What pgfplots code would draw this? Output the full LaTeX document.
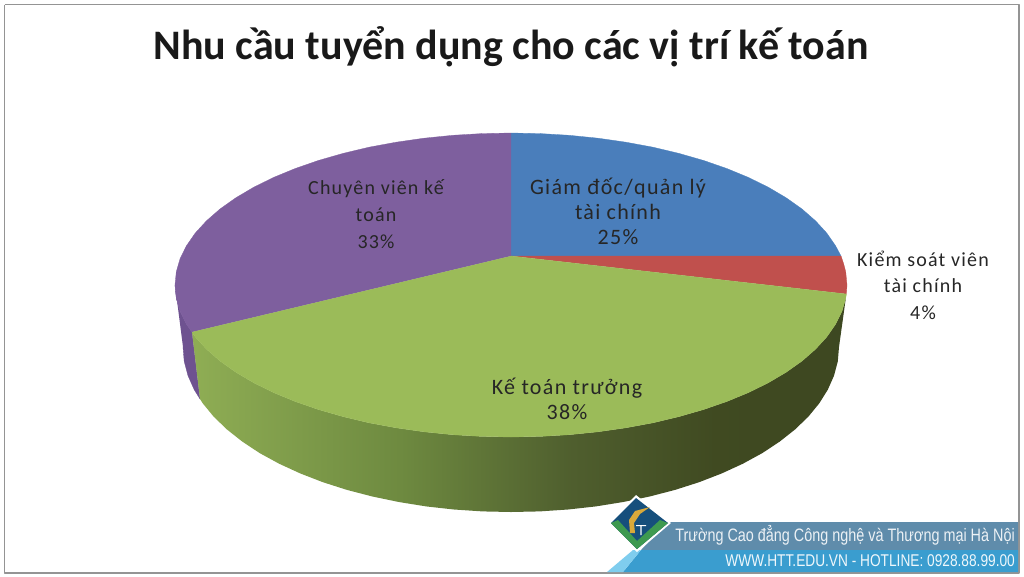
\documentclass[border=0pt]{standalone}
\usepackage{fontspec}
\setmainfont{Carlito}
\newfontfamily\hfont{Liberation Sans}
\newfontfamily\lblfont[LetterSpace=6]{Carlito}
\usepackage{graphicx}
\usepackage{pgfplots}
\pgfplotsset{compat=1.18}
\definecolor{cblue}{HTML}{4A7EBB}
\definecolor{cred}{HTML}{C0504D}
\definecolor{cgreen}{HTML}{9BBB59}
\definecolor{cpurple}{HTML}{7E5F9E}
\definecolor{cpurpleside}{HTML}{6E5290}
\definecolor{bandtop}{HTML}{5F8CAB}
\definecolor{bandlow}{HTML}{3A9DCF}
\definecolor{bandlight}{HTML}{7FCDEE}
\definecolor{logoblue}{HTML}{164F7C}
\definecolor{logogreen}{HTML}{3E9A50}
\definecolor{logogold}{HTML}{D9A93A}
\pgfdeclarehorizontalshading{greenside}{100bp}{
  rgb(0bp)=(.56,.68,.33);
  rgb(25bp)=(.56,.68,.33);
  rgb(41bp)=(.43,.54,.25);
  rgb(54bp)=(.31,.37,.18);
  rgb(65bp)=(.25,.29,.13);
  rgb(75bp)=(.24,.28,.13);
  rgb(100bp)=(.24,.28,.13)}
\begin{document}
\begin{tikzpicture}
\begin{axis}[
  scale only axis, width=1024pt, height=576pt,
  xmin=0, xmax=1024, ymin=0, ymax=576, y dir=reverse,
  hide axis, clip=false,
  every axis plot/.append style={no marks, line join=round},
]
% keep the whole 1024x576 area as the page
\path[use as bounding box] (axis cs:0,0) rectangle (axis cs:1024,576);

% outer frame
\addplot[draw=black!42, line width=1.4pt] coordinates {(4.5,4.5) (1019,4.5) (1019,573) (4.5,573) (4.5,4.5)};

% sides of the pie
\addplot[fill=cpurpleside, draw=cpurpleside, line width=.3pt] coordinates {
  (175,285) (176.3,298.3) (180.1,311.4) (186.5,324.3) (192,332) (200,399)
  (194.2,389.7) (188,375.7) (184.2,361.4) (183,347)};
\addplot[shade, shading=greenside, draw=none] coordinates {
  (846.4,294) (845.7,298.3) (841.9,311.4) (835.5,324.3) (826.7,337) (815.5,349.2) (802,361)
  (786.2,372.2) (768.4,382.7) (748.6,392.5) (727,401.4) (703.7,409.5) (679,416.6) (653,422.8)
  (625.9,427.8) (598,431.8) (569.3,434.7) (540.3,436.4) (511,437) (481.7,436.4) (452.7,434.7)
  (424,431.8) (396.1,427.8) (369,422.8) (343,416.6) (318.3,409.5) (295,401.4) (273.4,392.5)
  (253.6,382.7) (235.8,372.2) (220,361) (206.5,349.2) (195.3,337) (192,332)
  (200,399) (202.8,403.4) (213.7,416.7) (227,429.5) (242.3,441.6) (259.7,453.1) (279.1,463.7)
  (300.2,473.4) (322.9,482.2) (347,489.9) (372.4,496.5) (398.8,502) (426.1,506.4) (454,509.5)
  (482.4,511.4) (511,512) (539.6,511.4) (568,509.5) (595.9,506.4) (623.2,502) (649.6,496.5)
  (675,489.9) (699.1,482.2) (721.8,473.4) (742.9,463.7) (762.3,453.1) (779.7,441.6) (795,429.5)
  (808.3,416.7) (819.2,403.4) (827.8,389.7) (834,375.7) (837.8,361.4) (839,347)};

% top face
\addplot[fill=cblue, draw=cblue, line width=.3pt] coordinates {
  (511,256) (511,133) (540.3,133.6) (569.3,135.3) (598,138.2) (625.9,142.2) (653,147.2)
  (679,153.4) (703.7,160.5) (727,168.6) (748.6,177.5) (768.4,187.3) (786.2,197.8) (802,209)
  (815.5,220.8) (826.7,233) (835.5,245.7) (841,256)};
\addplot[fill=cred, draw=cred, line width=.3pt] coordinates {
  (511,256) (841,256) (843.7,264) (845.7,271.7) (847,285) (846.4,294)};
\addplot[fill=cpurple, draw=cpurple, line width=.3pt] coordinates {
  (511,256) (192,332) (186.5,324.3) (180.1,311.4) (176.3,298.3) (175,285) (176.3,271.7)
  (180.1,258.6) (186.5,245.7) (195.3,233) (206.5,220.8) (220,209) (235.8,197.8) (253.6,187.3)
  (273.4,177.5) (295,168.6) (318.3,160.5) (343,153.4) (369,147.2) (396.1,142.2) (424,138.2)
  (452.7,135.3) (481.7,133.6) (511,133)};
\addplot[fill=cgreen, draw=cgreen, line width=.3pt] coordinates {
  (511,256) (846.4,294) (845.7,298.3) (841.9,311.4) (835.5,324.3) (826.7,337) (815.5,349.2)
  (802,361) (786.2,372.2) (768.4,382.7) (748.6,392.5) (727,401.4) (703.7,409.5) (679,416.6)
  (653,422.8) (625.9,427.8) (598,431.8) (569.3,434.7) (540.3,436.4) (511,437) (481.7,436.4)
  (452.7,434.7) (424,431.8) (396.1,427.8) (369,422.8) (343,416.6) (318.3,409.5) (295,401.4)
  (273.4,392.5) (253.6,382.7) (235.8,372.2) (220,361) (206.5,349.2) (195.3,337) (192,332)};

% footer bands
\addplot[fill=bandtop, draw=none] coordinates {(668,522) (1018,522) (1018,550) (641,550)};
\addplot[fill=bandlow, draw=none] coordinates {(641,550) (1018,550) (1018,572) (623,572)};
\addplot[fill=bandlight, draw=none] coordinates {(633,550) (641,550) (623,572) (607,572)};

% logo
\addplot[fill=white, draw=none] coordinates {(636,495) (671,523) (637,552) (608,523)};
\addplot[fill=logoblue, draw=none] coordinates {(636,498) (668,523) (637,549) (611,523)};
\addplot[fill=logogreen, draw=none] coordinates {(611,523) (618,520) (637,541) (660,520) (668,523) (637,549)};
\addplot[fill=logogold, draw=none] coordinates {(630,533) (629,520) (635,511) (650,507) (640,514) (634,523) (635,533)};
\addplot[fill=white, draw=none] coordinates {(636,525) (646,525) (646,526.2) (641.6,526.2) (641.6,535) (640.4,535) (640.4,526.2) (636,526.2)};

% text
\node[font=\bfseries\fontsize{42}{42}\selectfont, text=black!90] at (axis cs:511,47) {Nhu cầu tuyển dụng cho các vị trí kế toán};
\node[font=\lblfont\fontsize{22}{25}\selectfont, align=center, text=black!85, inner sep=0pt] at (axis cs:618,211) {Giám đốc/quản lý\\tài chính\\25\%};
\node[font=\lblfont\fontsize{20}{26.5}\selectfont, align=center, text=black!85, inner sep=0pt] at (axis cs:923,285) {Kiểm soát viên\\tài chính\\4\%};
\node[font=\lblfont\fontsize{22}{25}\selectfont, align=center, text=black!85, inner sep=0pt] at (axis cs:567,399) {Kế toán trưởng\\38\%};
\node[font=\lblfont\fontsize{20}{27}\selectfont, align=center, text=black!85, inner sep=0pt] at (axis cs:376,214) {Chuyên viên kế\\toán\\33\%};
\node[font=\hfont\fontsize{18}{18}\selectfont, text=white!88!bandtop, anchor=east, inner sep=0pt] at (axis cs:1015,535) {\scalebox{0.80}[1]{Trường Cao đẳng Công nghệ và Thương mại Hà Nội}};
\node[font=\hfont\fontsize{17}{17}\selectfont, text=white!92!bandlow, anchor=east, inner sep=0pt] at (axis cs:1015,561) {\scalebox{0.806}[1]{WWW.HTT.EDU.VN - HOTLINE: 0928.88.99.00}};
\end{axis}
\end{tikzpicture}
\end{document}
